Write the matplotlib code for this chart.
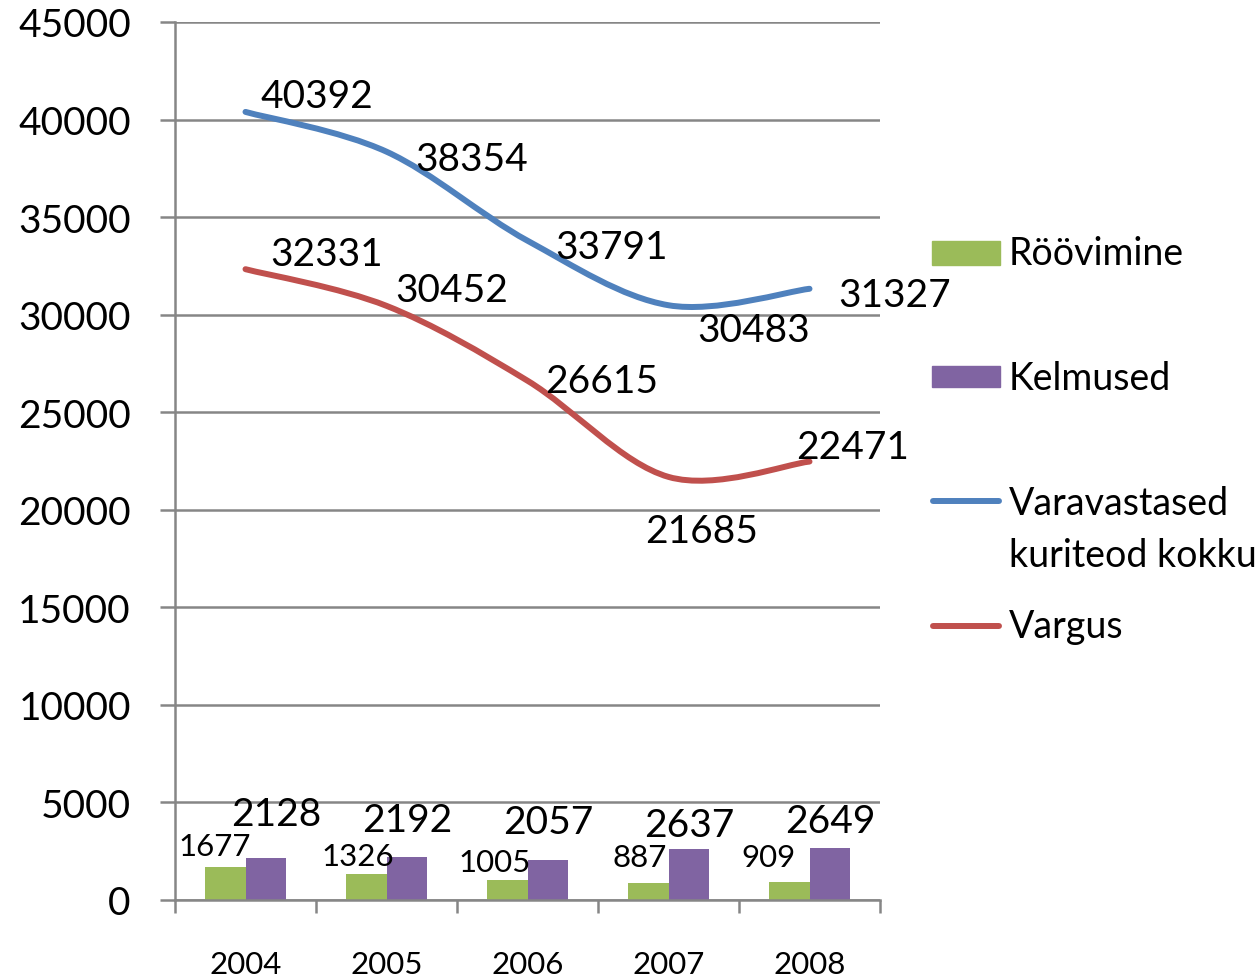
import numpy as np
import matplotlib.pyplot as plt
from matplotlib.path import Path
from matplotlib.patches import PathPatch, Rectangle
from matplotlib.lines import Line2D

plt.rcParams['font.family'] = ['Lato', 'DejaVu Sans']

years = ['2004', '2005', '2006', '2007', '2008']
roovimine = [1677, 1326, 1005, 887, 909]
kelmused = [2128, 2192, 2057, 2637, 2649]
varavastased = [40392, 38354, 33791, 30483, 31327]
vargus = [32331, 30452, 26615, 21685, 22471]

GREEN = '#9BBB59'
PURPLE = '#8064A2'
BLUE = '#4F81BD'
RED = '#C0504D'
GRID = '#868686'

# label offsets in pixels (dx, dy up), hand placed like in the excel original
blue_offsets = [(71, 16), (85, -7), (84, -6), (85, -25), (85, -6)]
red_offsets = [(81, 15), (65, 16), (74, 0), (33, -54), (43, 15)]
purple_offsets = [(10, 44), (0, 37), (0, 38), (0, 24), (0, 27)]
green_offsets = [(-10, 21), (-8, 18), (-12, 18), (-8, 26), (-21, 25)]

W, H = 1256, 979
fig = plt.figure(figsize=(W / 100, H / 100), dpi=100)
ax = fig.add_axes([175 / W, 1 - 901 / H, (880 - 175) / W, (901 - 23) / H])

x = np.arange(len(years))
bw = 0.29
ax.bar(x - bw / 2, roovimine, bw, color=GREEN, zorder=2)
ax.bar(x + bw / 2, kelmused, bw, color=PURPLE, zorder=2)


def smooth_path(xs, ys):
    # catmull-rom style bezier, close to excel "smoothed line"
    pts = np.column_stack([xs, ys]).astype(float)
    verts = [pts[0]]
    codes = [Path.MOVETO]
    n = len(pts)
    for i in range(n - 1):
        p0 = pts[max(i - 1, 0)]
        p1 = pts[i]
        p2 = pts[i + 1]
        p3 = pts[min(i + 2, n - 1)]
        c1 = p1 + (p2 - p0) / 6
        c2 = p2 - (p3 - p1) / 6
        verts += [c1, c2, p2]
        codes += [Path.CURVE4] * 3
    return Path(verts, codes)


for vals, col in [(varavastased, BLUE), (vargus, RED)]:
    ax.add_patch(PathPatch(smooth_path(x, vals), fill=False, edgecolor=col,
                           lw=4.3, capstyle='round', joinstyle='round', zorder=3))

for xi, v, off in zip(x, varavastased, blue_offsets):
    ax.annotate(str(v), (xi, v), xytext=off, textcoords='offset pixels',
                ha='center', va='center', fontsize=28, zorder=4)
for xi, v, off in zip(x, vargus, red_offsets):
    ax.annotate(str(v), (xi, v), xytext=off, textcoords='offset pixels',
                ha='center', va='center', fontsize=28, zorder=4)
for xi, v, off in zip(x, kelmused, purple_offsets):
    ax.annotate(str(v), (xi + bw / 2, v), xytext=off, textcoords='offset pixels',
                ha='center', va='center', fontsize=28, zorder=4)
for xi, v, off in zip(x, roovimine, green_offsets):
    ax.annotate(str(v), (xi - bw / 2, v), xytext=off, textcoords='offset pixels',
                ha='center', va='center', fontsize=22.5, zorder=4)

ax.set_xlim(-0.5, len(years) - 0.5)
ax.set_ylim(0, 45000)
ax.set_yticks(np.arange(0, 45001, 5000))
ax.yaxis.grid(True, color=GRID, lw=1.8, zorder=0)
ax.set_axisbelow(True)
ax.tick_params(axis='y', length=10.8, width=1.8, color=GRID, pad=21, labelsize=28)
ax.set_xticks(x)
ax.set_xticklabels(years)
ax.set_xticks(np.arange(-0.5, len(years)), minor=True)
ax.tick_params(axis='x', which='major', length=0, pad=36, labelsize=22.5)
ax.tick_params(axis='x', which='minor', length=9.5, width=1.8, color=GRID)
for s in ['top', 'right']:
    ax.spines[s].set_visible(False)
for s in ['left', 'bottom']:
    ax.spines[s].set_color(GRID)
    ax.spines[s].set_linewidth(1.8)


def fx(px):
    return px / W


def fy(py):
    return 1 - py / H


# legend drawn by hand so the line sits on the first text line
fig.add_artist(Rectangle((fx(932), fy(266)), fx(68), 24 / H, color=GREEN,
                         transform=fig.transFigure))
fig.add_artist(Rectangle((fx(932), fy(388)), fx(68), 21 / H, color=PURPLE,
                         transform=fig.transFigure))
fig.add_artist(Line2D([fx(933), fx(999)], [fy(502), fy(502)], color=BLUE, lw=4.3,
                      solid_capstyle='round', transform=fig.transFigure))
fig.add_artist(Line2D([fx(933), fx(999)], [fy(627), fy(627)], color=RED, lw=4.3,
                      solid_capstyle='round', transform=fig.transFigure))
legend_texts = [('Röövimine', 265), ('Kelmused', 390), ('Varavastased', 515),
                ('kuriteod kokku', 567), ('Vargus', 638)]
for txt, base in legend_texts:
    fig.text(fx(1009), fy(base), txt, fontsize=27, va='baseline', ha='left')

fig.savefig('out.png', dpi=100)
